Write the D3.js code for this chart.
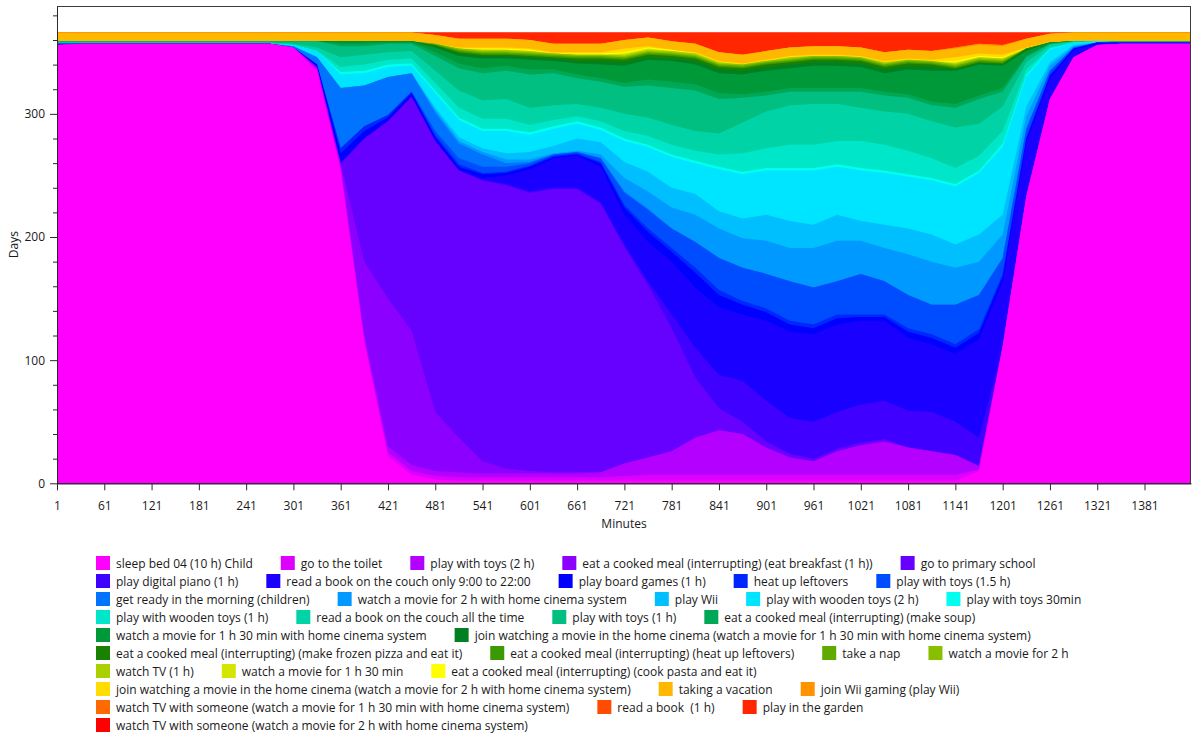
<!DOCTYPE html>
<html lang="en">
<head>
<meta charset="utf-8">
<style>
  body { margin: 0; background: #fff; }
  #chart svg { display: block; }
  text { font-family: "Open Sans", "Noto Sans", sans-serif; fill: #1a1a1a; }
  .legend text { white-space: pre; }
</style>
</head>
<body>
<div id="chart"><svg width="1192" height="738"></svg></div>
<script src="https://d3js.org/d3.v7.min.js"></script>
<script>
// sample minutes (every 30 min over the day)
var minutes = [1,31,61,91,121,151,181,211,241,271,301,331,361,391,421,451,481,511,541,571,601,631,661,691,721,751,781,811,841,871,901,931,961,991,1021,1051,1081,1111,1141,1171,1201,1231,1261,1291,1321,1351,1381,1411,1440];

var xTicks = [1,61,121,181,241,301,361,421,481,541,601,661,721,781,841,901,961,1021,1081,1141,1201,1261,1321,1381];
var yTicks = [0,100,200,300];
var yMinorTicks = [20,40,60,80,120,140,160,180,220,240,260,280,320,340,360,380];

var seriesNames = [
  "sleep bed 04 (10 h) Child",
  "go to the toilet",
  "play with toys (2 h)",
  "eat a cooked meal (interrupting) (eat breakfast (1 h))",
  "go to primary school",
  "play digital piano (1 h)",
  "read a book on the couch only 9:00 to 22:00",
  "play board games (1 h)",
  "heat up leftovers",
  "play with toys (1.5 h)",
  "get ready in the morning (children)",
  "watch a movie for 2 h with home cinema system",
  "play Wii",
  "play with wooden toys (2 h)",
  "play with toys 30min",
  "play with wooden toys (1 h)",
  "read a book on the couch all the time",
  "play with toys (1 h)",
  "eat a cooked meal (interrupting) (make soup)",
  "watch a movie for 1 h 30 min with home cinema system",
  "join watching a movie in the home cinema (watch a movie for 1 h 30 min with home cinema system)",
  "eat a cooked meal (interrupting) (make frozen pizza and eat it)",
  "eat a cooked meal (interrupting) (heat up leftovers)",
  "take a nap",
  "watch a movie for 2 h",
  "watch TV (1 h)",
  "watch a movie for 1 h 30 min",
  "eat a cooked meal (interrupting) (cook pasta and eat it)",
  "join watching a movie in the home cinema (watch a movie for 2 h with home cinema system)",
  "taking a vacation",
  "join Wii gaming (play Wii)",
  "watch TV with someone (watch a movie for 1 h 30 min with home cinema system)",
  "read a book  (1 h)",
  "play in the garden",
  "watch TV with someone (watch a movie for 2 h with home cinema system)"
];

// days per sample minute, one array per activity
var sleepBed     = [356,357,357,357,357,357,357,357,357,357,354,335,254,115,22,7,3,2,2,2,2,2,2,2,2,2,2,2,2,2,2,2,2,2,2,2,2,2,2,10,111,233,312,346,356,357,357,357,357];
var toilet       = [0,0,0,0,0,0,0,0,0,0,0,1,2,2,3,3,3,3,3,3,3,3,3,3,4,5,5,5,5,5,5,5,5,5,5,5,5,5,5,1,0,0,0,0,0,0,0,0,0];
var toys2h       = [0,0,0,0,0,0,0,0,0,0,0,1,2,3,5,5,4,4,3,3,3,3,3,4,10,14,19,30,36,33,22,14,11,19,24,27,22,19,16,3,0,0,0,0,0,0,0,0,0];
var breakfast    = [0,0,0,0,0,0,0,0,0,0,0,1,2,60,120,109,48,28,10,4,2,1,1,0,0,0,0,0,0,0,0,0,0,0,0,0,0,0,0,0,0,0,0,0,0,0,0,0,0];
var school       = [0,0,0,0,0,0,0,0,0,0,0,0,0,100,144,190,220,217,228,230,226,230,230,218,176,140,100,49,18,10,5,3,2,2,2,2,0,0,0,0,0,0,0,0,0,0,0,0,0];
var piano        = [0,0,0,0,0,0,0,0,0,0,0,0,0,0,0,0,0,0,0,1,1,1,1,1,2,3,11,24,27,33,33,29,30,30,31,31,30,32,27,23,0,0,0,0,0,0,0,0,0];
var bookDay      = [0,0,0,0,0,0,0,0,0,0,0,0,0,0,0,0,0,0,2,7,18,24,26,29,24,32,43,49,55,54,65,70,71,71,68,65,59,55,55,80,53,44,17,6,1,0,0,0,0];
var boardGames   = [1,0,0,0,0,0,0,0,0,0,0,2,8,6,3,3,3,3,3,2,2,1,1,3,6,8,8,12,10,8,7,6,5,5,3,3,5,5,5,5,4,3,2,1,1,1,1,1,1];
var heatUp       = [0,0,0,0,0,0,0,0,0,0,0,0,4,4,2,1,2,2,1,1,1,1,1,1,2,3,3,4,4,3,3,3,3,3,2,2,3,3,3,3,2,1,1,0,0,0,0,0,0];
var toys15h      = [0,0,0,0,0,0,0,0,0,0,0,0,0,0,0,0,3,5,5,4,2,1,1,3,10,15,16,21,26,27,28,32,30,27,33,27,27,24,32,28,13,7,3,1,0,0,0,0,0];
var getReady     = [0,0,0,0,0,0,0,0,0,0,1,6,49,33,31,15,15,12,10,3,1,0,0,0,1,1,0,0,0,0,0,0,0,0,0,0,0,0,0,0,0,0,0,0,0,0,0,0,0];
var movie2hHc    = [0,0,0,0,0,0,0,0,0,0,0,0,0,0,0,0,2,2,2,3,2,1,1,3,11,14,17,22,24,24,27,27,32,33,27,27,33,35,30,27,19,10,4,1,0,0,0,0,0];
var wii          = [0,0,0,0,0,0,0,0,0,0,0,0,0,0,0,0,2,3,3,5,6,6,10,10,13,16,16,17,14,16,21,22,19,21,16,19,21,22,19,22,16,8,3,1,0,0,0,0,0];
var wooden2h     = [0,0,0,0,0,0,0,0,0,0,1,5,11,10,8,6,12,14,14,18,14,14,12,10,17,20,25,25,34,36,36,41,44,39,41,42,42,44,47,50,55,24,10,2,1,0,0,0,0];
var toys30       = [0,0,0,0,0,0,0,0,0,0,0,0,2,2,2,2,2,2,2,2,2,2,2,2,2,2,2,2,2,2,2,2,2,2,2,2,2,2,2,2,3,2,1,0,0,0,0,0,0];
var wooden1h     = [0,0,0,0,0,0,0,0,0,0,0,0,4,5,4,4,6,8,8,8,6,5,4,5,6,7,8,8,10,15,16,19,19,19,22,21,19,16,13,12,10,4,1,0,0,0,0,0,0];
var bookAll      = [1,1,1,1,1,1,1,1,1,1,1,3,8,8,6,6,10,14,15,16,14,12,10,11,14,15,16,16,17,25,30,32,33,30,27,27,30,30,33,26,20,6,2,1,0,0,0,0,0];
var toys1h       = [1,1,1,1,1,1,1,1,1,1,2,5,9,7,7,6,12,18,22,23,27,26,21,21,22,26,30,33,28,20,13,11,10,10,13,13,13,13,16,20,12,4,1,0,0,1,1,1,1];
var soup         = [0,0,0,0,0,0,0,0,0,0,0,0,2,2,1,1,3,4,4,4,4,3,3,3,3,5,5,5,5,3,3,3,3,3,3,3,3,3,3,3,3,1,0,0,0,0,0,0,0];
var movie130Hc   = [0,0,0,0,0,0,0,0,0,0,0,0,2,2,1,1,4,6,8,6,8,7,9,11,14,16,17,16,16,16,17,16,18,18,17,15,20,25,27,25,18,4,1,0,0,0,0,0,0];
var join130      = [0,0,0,0,0,0,0,0,0,0,0,0,0,0,0,0,1,2,2,2,2,2,2,3,3,2,2,3,3,3,3,3,3,3,3,3,3,3,1,1,1,1,0,0,0,0,0,0,0];
var frozenPizza  = [0,0,0,0,0,0,0,0,0,0,0,0,0,0,0,0,1,1,1,1,1,1,2,2,2,2,2,2,2,2,2,2,2,2,2,2,2,2,1,1,1,1,0,0,0,0,0,0,0];
var leftoverMeal = [0,0,0,0,0,0,0,0,0,0,0,0,0,0,0,0,0,1,1,1,1,1,1,1,1,1,1,1,1,1,1,1,1,1,1,1,1,1,1,1,1,0,0,0,0,0,0,0,0];
var nap          = [0,0,0,0,0,0,0,0,0,0,0,0,0,0,0,0,1,1,1,1,1,1,1,1,1,1,1,1,1,1,1,1,1,1,1,1,1,1,1,1,1,0,0,0,0,0,0,0,0];
var movie2h      = [0,0,0,0,0,0,0,0,0,0,0,0,0,0,0,0,0,1,1,1,1,1,1,1,1,1,1,1,1,1,1,1,1,1,1,1,1,1,1,1,1,0,0,0,0,0,0,0,0];
var tv1h         = [0,0,0,0,0,0,0,0,0,0,0,0,0,0,0,0,0,0,1,1,1,0,0,0,1,1,1,1,1,0,0,1,0,0,0,1,0,0,1,1,1,0,0,0,0,0,0,0,0];
var movie130     = [0,0,0,0,0,0,0,0,0,0,0,0,0,0,0,0,0,0,0,0,0,0,0,0,1,1,0,0,0,0,0,0,0,0,0,0,0,0,1,0,0,0,0,0,0,0,0,0,0];
var pasta        = [0,0,0,0,0,0,0,0,0,0,0,0,0,0,0,0,0,0,1,1,1,0,1,1,1,1,1,0,0,0,0,0,0,0,0,0,0,0,1,1,1,0,0,0,0,0,0,0,0];
var join2h       = [0,0,0,0,0,0,0,0,0,0,0,0,0,0,0,0,0,1,1,1,1,1,1,1,3,1,0,1,1,1,1,1,1,1,1,1,1,1,3,2,2,1,0,0,0,0,0,0,0];
var vacation     = [7,7,7,7,7,7,7,7,7,7,7,7,7,7,7,7,7,7,7,7,7,7,7,7,7,7,7,7,7,7,7,7,7,7,7,7,7,7,7,7,7,7,7,7,7,7,7,7,7];
var joinWii      = [0,0,0,0,0,0,0,0,0,0,0,0,0,0,0,0,0,0,0,0,0,0,0,0,0,0,0,0,0,0,0,0,0,0,0,0,0,0,1,1,1,0,0,0,0,0,0,0,0];
var tvSome130    = [0,0,0,0,0,0,0,0,0,0,0,0,0,0,0,0,0,0,0,0,0,0,0,0,0,0,0,0,0,0,0,0,0,0,0,0,0,0,0,0,0,0,0,0,0,0,0,0,0];
var readBook     = [0,0,0,0,0,0,0,0,0,0,0,0,0,0,0,0,0,0,0,0,0,0,0,0,0,0,0,0,0,0,0,0,0,0,0,0,0,0,0,0,0,0,0,0,0,0,0,0,0];
var garden       = [0,0,0,0,0,0,0,0,0,0,0,0,0,0,0,0,2,5,5,5,6,9,9,9,6,4,7,9,16,18,15,12,11,11,12,16,14,15,12,9,10,5,1,0,0,0,0,0,0];
var tvSome2h     = [0,0,0,0,0,0,0,0,0,0,0,0,0,0,0,0,0,0,0,0,0,0,0,0,0,0,0,0,0,0,0,0,0,0,0,0,0,0,0,0,0,0,0,0,0,0,0,0,0];

var seriesValues = [sleepBed, toilet, toys2h, breakfast, school, piano, bookDay, boardGames, heatUp, toys15h,
  getReady, movie2hHc, wii, wooden2h, toys30, wooden1h, bookAll, toys1h, soup, movie130Hc, join130, frozenPizza,
  leftoverMeal, nap, movie2h, tv1h, movie130, pasta, join2h, vacation, joinWii, tvSome130, readBook, garden, tvSome2h];

var seriesColors = ["#ff00ff","#dd00ff","#b300ff","#8c00ff","#6600ff","#4000ff","#1a00ff","#0000ff","#0026ff","#004cff",
  "#0073ff","#0099ff","#00bfff","#00e5ff","#00ffee","#00e6c8","#00d4a6","#00bf80","#00a855","#00993a","#008020","#1a8000",
  "#3d9900","#60aa00","#88c000","#aad000","#d4e600","#ffff00","#ffdd00","#ffb800","#ff9300","#ff6a00","#ff4c00","#ff2600","#ff0000"];

var svg = d3.select("#chart svg");
var plot = {left: 57, right: 1191, top: 6, bottom: 483.3};

var x = d3.scaleLinear().domain([1, 1440]).range([plot.left, plot.right]);
var y = d3.scaleLinear().domain([0, 387.6]).range([plot.bottom, plot.top]);

// one row per sample minute, stacked by activity index
var rows = minutes.map(function(m, i) { return {minute: m, i: i}; });
var keys = d3.range(seriesNames.length);
var stack = d3.stack().keys(keys).value(function(d, k) { return seriesValues[k][d.i]; });
var layers = stack(rows);

// paint each layer from 0 up to its top, top layer first, so no seams
var area = d3.area()
    .x(function(d) { return x(d.data.minute); })
    .y0(y(0))
    .y1(function(d) { return y(d[1]); });

svg.append("g")
  .selectAll("path")
  .data(layers.slice().reverse())
  .join("path")
    .attr("d", area)
    .attr("fill", function(d) { return seriesColors[d.key]; });

// frame
svg.append("rect")
    .attr("x", plot.left + 0.5).attr("y", plot.top + 0.5)
    .attr("width", plot.right - plot.left - 1).attr("height", plot.bottom - plot.top)
    .attr("fill", "none").attr("stroke", "#3c3c3c");

// axes
svg.append("g")
    .attr("transform", "translate(0," + plot.bottom + ")")
    .call(d3.axisBottom(x).tickValues(xTicks).tickFormat(d3.format("d"))
      .tickSize(7).tickSizeOuter(0).tickPadding(11));
svg.append("g")
    .attr("transform", "translate(" + plot.left + ",0)")
    .call(d3.axisLeft(y).tickValues(yTicks).tickFormat(d3.format("d"))
      .tickSize(7).tickSizeOuter(0).tickPadding(5));
svg.append("g")
    .attr("transform", "translate(" + plot.left + ",0)")
    .call(d3.axisLeft(y).tickValues(yMinorTicks).tickSize(4).tickSizeOuter(0).tickFormat(""))
    .select(".domain").remove();

svg.selectAll(".tick text").attr("font-size", 12).attr("font-family", null).style("fill", "#1a1a1a");
svg.selectAll(".domain, .tick line").attr("stroke", "#2a2a2a");

svg.append("text")
    .attr("x", (plot.left + plot.right) / 2).attr("y", 528)
    .attr("text-anchor", "middle").attr("font-size", 12)
    .text("Minutes");
svg.append("text")
    .attr("transform", "translate(18," + ((plot.top + plot.bottom) / 2) + ") rotate(-90)")
    .attr("text-anchor", "middle").attr("font-size", 12)
    .text("Days");

// legend, wrapped in rows
var legend = svg.append("g").attr("class", "legend");
var lx0 = 96, lx = lx0, ly = 556, maxX = 1152;
seriesNames.forEach(function(name, i) {
  var g = legend.append("g");
  g.append("rect").attr("width", 14).attr("height", 14).attr("fill", seriesColors[i]);
  var t = g.append("text").attr("x", 20).attr("y", 12.3).attr("font-size", 12).text(name);
  var w = 20 + t.node().getComputedTextLength();
  if (lx + w > maxX && lx > lx0) { lx = lx0; ly += 18; }
  g.attr("transform", "translate(" + lx + "," + ly + ")");
  lx += w + 28;
});
</script>
</body>
</html>
